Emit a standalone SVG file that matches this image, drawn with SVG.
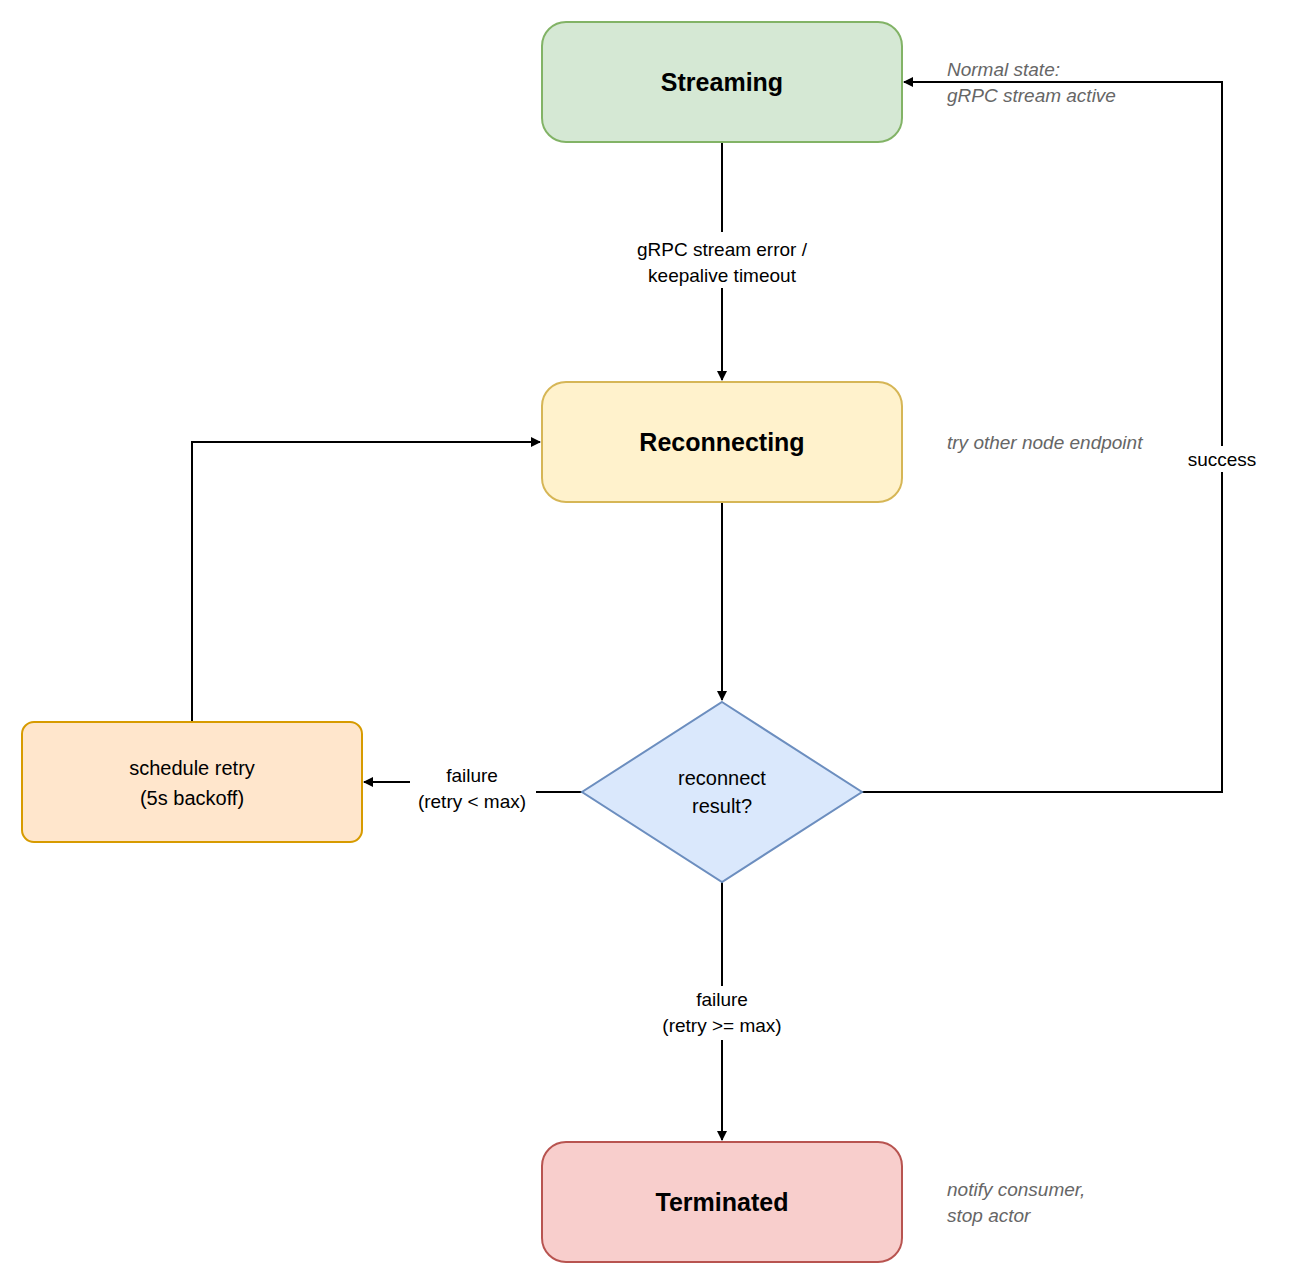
<svg xmlns="http://www.w3.org/2000/svg" width="1294" height="1275" viewBox="0 0 1294 1275">
<style>
text{font-family:"Liberation Sans",Arial,sans-serif;text-anchor:middle}
.t{font-size:25px;font-weight:bold}
.n{font-size:20px}
.l{font-size:19px}
.a{font-size:19px;font-style:italic;fill:#666;text-anchor:start}
.e{fill:none;stroke:#000;stroke-width:2}
</style>
<defs><marker id="ar" markerWidth="10" markerHeight="10" refX="9" refY="5" orient="auto" markerUnits="userSpaceOnUse"><path d="M0,0 L10,5 L0,10 z" fill="#000"/></marker></defs>
<rect width="1294" height="1275" fill="#fff"/>
<g id="connectors">
<path class="e" d="M722,142 V380" marker-end="url(#ar)"/>
<path class="e" d="M722,502 V700" marker-end="url(#ar)"/>
<path class="e" d="M582,792 H472 V782 H364" marker-end="url(#ar)"/>
<path class="e" d="M192,722 V442 H540" marker-end="url(#ar)"/>
<path class="e" d="M862,792 H1222 V82 H904" marker-end="url(#ar)"/>
<path class="e" d="M722,882 V1140" marker-end="url(#ar)"/>
<rect x="620" y="232" width="204" height="56" fill="#fff"/>
<text class="l" x="722" y="256">gRPC stream error /</text>
<text class="l" x="722" y="282">keepalive timeout</text>
<rect x="410" y="762" width="126" height="54" fill="#fff"/>
<text class="l" x="472" y="782">failure</text>
<text class="l" x="472" y="808">(retry &lt; max)</text>
<rect x="1182" y="446" width="82" height="26" fill="#fff"/>
<text class="l" x="1222" y="466">success</text>
<rect x="650" y="986" width="144" height="54" fill="#fff"/>
<text class="l" x="722" y="1006">failure</text>
<text class="l" x="722" y="1032">(retry &gt;= max)</text>
</g>
<g id="streaming"><rect x="542" y="22" width="360" height="120" rx="24" fill="#d5e8d4" stroke="#82b366" stroke-width="2"/><text class="t" x="722" y="91">Streaming</text></g>
<g id="reconnecting"><rect x="542" y="382" width="360" height="120" rx="24" fill="#fff2cc" stroke="#d6b656" stroke-width="2"/><text class="t" x="722" y="451">Reconnecting</text></g>
<g id="decision"><path d="M722,702 L862,792 L722,882 L582,792 Z" fill="#dae8fc" stroke="#6c8ebf" stroke-width="2"/><text class="n" x="722" y="785">reconnect</text><text class="n" x="722" y="813">result?</text></g>
<g id="retry"><rect x="22" y="722" width="340" height="120" rx="12" fill="#ffe6cc" stroke="#d79b00" stroke-width="2"/><text class="n" x="192" y="775">schedule retry</text><text class="n" x="192" y="805">(5s backoff)</text></g>
<g id="terminated"><rect x="542" y="1142" width="360" height="120" rx="24" fill="#f8cecc" stroke="#b85450" stroke-width="2"/><text class="t" x="722" y="1211">Terminated</text></g>
<g id="notes">
<text class="a" x="947" y="76">Normal state:</text>
<text class="a" x="947" y="102">gRPC stream active</text>
<text class="a" x="947" y="449">try other node endpoint</text>
<text class="a" x="947" y="1196">notify consumer,</text>
<text class="a" x="947" y="1222">stop actor</text>
</g>
</svg>
